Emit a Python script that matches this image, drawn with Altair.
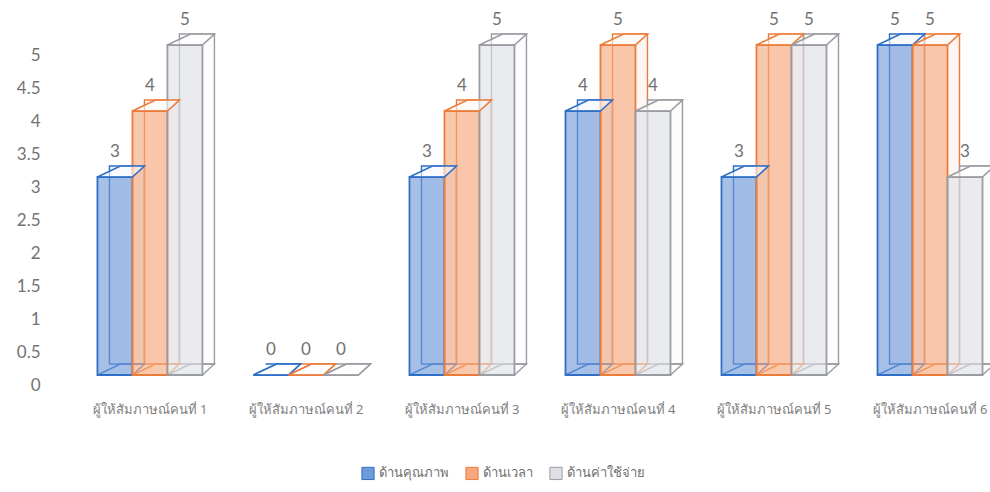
import altair as alt
import pandas as pd

categories = ["ผู้ให้สัมภาษณ์คนที่ 1", "ผู้ให้สัมภาษณ์คนที่ 2", "ผู้ให้สัมภาษณ์คนที่ 3",
              "ผู้ให้สัมภาษณ์คนที่ 4", "ผู้ให้สัมภาษณ์คนที่ 5", "ผู้ให้สัมภาษณ์คนที่ 6"]
series = ["ด้านคุณภาพ", "ด้านเวลา", "ด้านค่าใช้จ่าย"]
quality = [3, 0, 3, 4, 3, 5]
time_vals = [4, 0, 4, 5, 5, 5]
cost = [5, 0, 5, 4, 5, 3]
y_ticks = [0, 0.5, 1, 1.5, 2, 2.5, 3, 3.5, 4, 4.5, 5]

fill_colors = ["#6f9ad9", "#f6a87c", "#dfe0e5"]
stroke_colors = ["#2f6fc6", "#ec7c3c", "#9a9ca3"]

# parallelogram glyph for the top / bottom face of each 3-D box (drawn around the point)
FACE = "M-0.5833,0L0.5833,0L0.9833,-0.3667L0.1833,-0.3667Z"

rows = []
for s, vals in zip(series, [quality, time_vals, cost]):
    for c, v in zip(categories, vals):
        rows.append({"cat": c, "series": s, "value": v, "zero": 0})
df = pd.DataFrame(rows)

x_enc = alt.X("cat:N", sort=categories, title=None,
              scale=alt.Scale(paddingInner=0.327, paddingOuter=0.16, align=0.85),
              axis=alt.Axis(labelAngle=0, domain=False, ticks=False, labelFontSize=13,
                            labelColor="#7f7f7f", labelPadding=28, labelFont="Noto Sans"))
xo_front = alt.XOffset("series:N", sort=series,
                       scale=alt.Scale(type="band", paddingInner=0, paddingOuter=0))
xo_back = alt.XOffset("series:N", sort=series,
                      scale=alt.Scale(type="band", paddingInner=0, paddingOuter=0, range=[12, 117]))
y_axis = alt.Axis(values=y_ticks, format="~g", grid=False, domain=False, ticks=False,
                  labelFontSize=17, labelColor="#737373", labelOffset=10,
                  labelPadding=15, labelFont="Lato", labelOverlap=False)
y_scale = alt.Scale(domain=[0, 5], nice=False)
y_enc = alt.Y("value:Q", title=None, scale=y_scale, axis=y_axis)
y_zero = alt.Y("zero:Q", title=None, scale=y_scale, axis=y_axis)

legend = alt.Legend(title=None, orient="none", legendX=306, legendY=421, direction="horizontal",
                    symbolType="square", symbolSize=150, labelFontSize=13, labelColor="#707070",
                    columnPadding=14, labelFont="Noto Sans", symbolStrokeWidth=1)
fill_enc = alt.Fill("series:N", sort=series, scale=alt.Scale(domain=series, range=fill_colors), legend=legend)
stroke_enc = alt.Stroke("series:N", sort=series, scale=alt.Scale(domain=series, range=stroke_colors), legend=legend)

back = alt.Chart(df).mark_bar(yOffset=-11, y2Offset=-11, fillOpacity=0.1, strokeWidth=1.4).encode(
    x=x_enc, xOffset=xo_back, y=y_enc, fill=fill_enc, stroke=stroke_enc)
bottom = alt.Chart(df).mark_point(shape=FACE, size=3600, filled=False, strokeWidth=1.4,
                                  opacity=1).encode(
    x=x_enc, xOffset=xo_front, y=y_zero, stroke=stroke_enc)
front = alt.Chart(df).mark_bar(fillOpacity=0.62, strokeWidth=1.8).encode(
    x=x_enc, xOffset=xo_front, y=y_enc, fill=fill_enc, stroke=stroke_enc)
top = alt.Chart(df).mark_point(shape=FACE, size=3600, filled=False, fill="white", fillOpacity=0.55,
                               strokeWidth=1.6, opacity=1).encode(
    x=x_enc, xOffset=xo_front, y=y_enc, stroke=stroke_enc)
labels = alt.Chart(df).mark_text(dy=-25, fontSize=17, color="#707070", font="Lato").encode(
    x=x_enc, xOffset=xo_front, y=y_enc, text=alt.Text("value:Q"))

chart = alt.layer(back, alt.layer(bottom, front, top, labels)).resolve_scale(
    xOffset="independent").properties(
    width=935, height=330,
    autosize=alt.AutoSizeParams(type="none"),
    padding={"left": 55, "top": 45, "right": 0, "bottom": 117},
    background="white",
).configure_view(stroke=None)

chart.save("out.html", embed_options={"renderer": "svg", "actions": False})
